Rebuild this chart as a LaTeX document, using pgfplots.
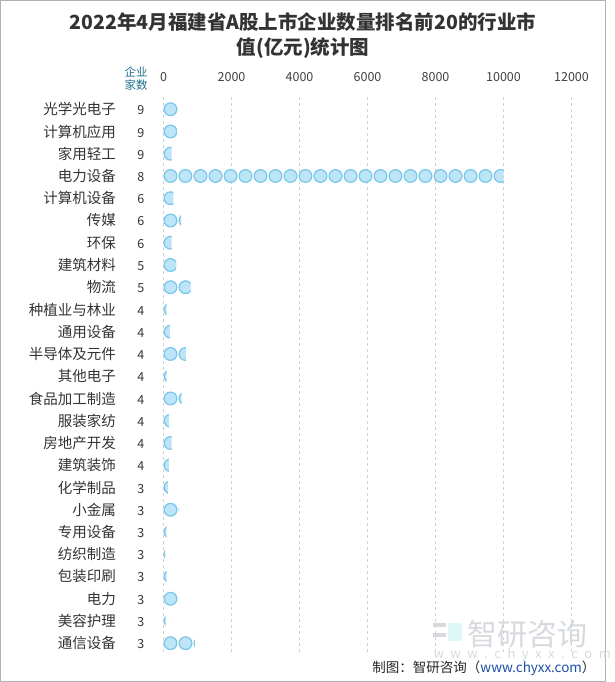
\documentclass[border=0pt]{standalone}
\usepackage{pgfplots}
\pgfplotsset{compat=1.18}
\usepackage{fontspec}
\setmainfont{Noto Sans CJK SC}
\definecolor{cfill}{HTML}{BEE4F8}
\definecolor{cline}{HTML}{7CC8EC}
\definecolor{hdr}{HTML}{1C6E8C}
\definecolor{txt}{HTML}{333333}
\definecolor{wm}{HTML}{D6DADE}
\definecolor{urlc}{HTML}{1F4FA8}
\newcommand\lab[2]{{\fontsize{14.5}{16}\selectfont #1}\hspace{12pt}\makebox[26pt][c]{\fontsize{12.5}{14}\selectfont #2}}
\pgfplotsset{circbar/.style={xbar, bar width=15pt, bar shift=0pt, draw=none, fill=none, forget plot,
  path picture={%
    \pgfpointanchor{path picture bounding box}{west}%
    \pgfgetlastxy{\bx}{\by}%
    \pgfsetlinewidth{1.3pt}\pgfsetstrokecolor{cline}\pgfsetfillcolor{cfill}%
    \foreach \k in {0,...,24}{\pgfpathcircle{\pgfpoint{\bx+7pt+\k*15pt}{\by}}{6.35pt}\pgfusepath{fill,stroke}}%
  }}}
\begin{document}
\begin{tikzpicture}
\draw[black!30, line width=0.8pt] (0.4pt,0.4pt) rectangle (605.6pt,681.6pt);
\node[text=txt, font=\fontsize{19.5}{22}\selectfont\bfseries] at (303pt,660pt) {2022年4月福建省A股上市企业数量排名前20的行业市};
\node[text=txt, font=\fontsize{19.5}{22}\selectfont\bfseries] at (303pt,634pt) {值(亿元)统计图};
\node[text=hdr, font=\fontsize{11.5}{13}\selectfont, align=center] at (136pt,603pt) {企业\\家数};
% watermark
\fill[wm] (433pt,55pt) rectangle (446pt,59pt);
\fill[wm] (433pt,45pt) rectangle (446pt,49pt);
\fill[wm!70!cyan!30] (448pt,41pt) rectangle (462pt,59pt);
\node[text=wm, font=\fontsize{30}{32}\selectfont, anchor=west] at (464pt,48pt) {智研咨询};
\node[text=wm, font=\fontsize{13}{14}\selectfont, anchor=west] at (430pt,27pt) {w\,\,\,w\,\,\,w\,\,\,.\,\,\,c\,\,\,h\,\,\,y\,\,\,x\,\,\,x\,\,\,.\,\,\,c\,\,\,o\,\,\,m};
\node[text=black!85, font=\fontsize{13.5}{15}\selectfont, anchor=east] at (599pt,14pt) {制图：智研咨询（\textcolor{urlc}{www.chyxx.com}）};
\begin{axis}[
  at={(163.5pt,27pt)}, anchor=south west,
  scale only axis, width=408pt, height=558pt,
  xmin=0, xmax=12000,
  ymin=-0.55, ymax=24.53, y dir=reverse,
  xtick={0,2000,...,12000},
  scaled x ticks=false,
  xticklabel pos=upper,
  xmajorgrids,
  grid style={dashed, color=black!18, line width=0.7pt},
  axis line style={draw=none},
  major tick length=0pt,
  tick style={draw=none},
  /pgf/number format/assume math mode=true,
  /pgf/number format/1000 sep={},
  xticklabel style={font=\fontsize{12.5}{14}\selectfont, text=black!75, anchor=center, inner sep=0pt},
  xticklabel shift=20pt,
  ytick={0,...,24},
  yticklabels={{\lab{光学光电子}{9}},{\lab{计算机应用}{9}},{\lab{家用轻工}{9}},{\lab{电力设备}{8}},{\lab{计算机设备}{6}},{\lab{传媒}{6}},{\lab{环保}{6}},{\lab{建筑材料}{5}},{\lab{物流}{5}},{\lab{种植业与林业}{4}},{\lab{通用设备}{4}},{\lab{半导体及元件}{4}},{\lab{其他电子}{4}},{\lab{食品加工制造}{4}},{\lab{服装家纺}{4}},{\lab{房地产开发}{4}},{\lab{建筑装饰}{4}},{\lab{化学制品}{3}},{\lab{小金属}{3}},{\lab{专用设备}{3}},{\lab{纺织制造}{3}},{\lab{包装印刷}{3}},{\lab{电力}{3}},{\lab{美容护理}{3}},{\lab{通信设备}{3}}},
  yticklabel style={text=txt, anchor=east, inner sep=0pt, xshift=-9.5pt},
  clip=false,
]
\addplot[circbar] coordinates {(430,0)};
\addplot[circbar] coordinates {(390,1)};
\addplot[circbar] coordinates {(240,2)};
\addplot[circbar] coordinates {(10000,3)};
\addplot[circbar] coordinates {(290,4)};
\addplot[circbar] coordinates {(515,5)};
\addplot[circbar] coordinates {(240,6)};
\addplot[circbar] coordinates {(370,7)};
\addplot[circbar] coordinates {(800,8)};
\addplot[circbar] coordinates {(95,9)};
\addplot[circbar] coordinates {(190,10)};
\addplot[circbar] coordinates {(655,11)};
\addplot[circbar] coordinates {(95,12)};
\addplot[circbar] coordinates {(535,13)};
\addplot[circbar] coordinates {(160,14)};
\addplot[circbar] coordinates {(240,15)};
\addplot[circbar] coordinates {(160,16)};
\addplot[circbar] coordinates {(125,17)};
\addplot[circbar] coordinates {(460,18)};
\addplot[circbar] coordinates {(95,19)};
\addplot[circbar] coordinates {(45,20)};
\addplot[circbar] coordinates {(95,21)};
\addplot[circbar] coordinates {(420,22)};
\addplot[circbar] coordinates {(65,23)};
\addplot[circbar] coordinates {(925,24)};
\end{axis}
\end{tikzpicture}
\end{document}
